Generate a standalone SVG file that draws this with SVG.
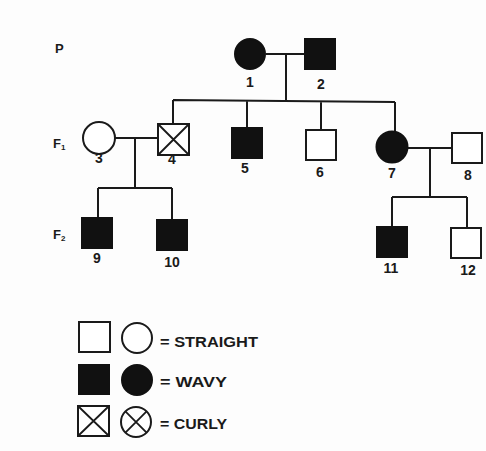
<svg xmlns="http://www.w3.org/2000/svg" width="486" height="451" viewBox="0 0 486 451">
<style>
.ln{stroke:#1a1a1a;stroke-width:2;fill:none}
.o{fill:#fff;stroke:#1a1a1a;stroke-width:2}
.f{fill:#111;stroke:#111;stroke-width:2}
.x{stroke:#1a1a1a;stroke-width:1.8}
text{font-family:"Liberation Sans",Arial,sans-serif;font-weight:bold;fill:#1a1a1a}
.n{font-size:14px;text-anchor:middle}
.g{font-size:13px}
.sub{font-size:8px}
.lg{font-size:14px}
</style>
<rect width="486" height="451" fill="#fdfdfd"/>
<g id="gen-labels">
<text class="g" x="55" y="53">P</text>
<text class="g" x="53" y="148">F<tspan class="sub" dy="2">1</tspan></text>
<text class="g" x="53" y="239">F<tspan class="sub" dy="2">2</tspan></text>
</g>
<g id="connectors">
<path class="ln" d="M266,54H305M286,54V101M173,100L395,102M173,100V124M247,101V127M321,101V130M395,102V131"/>
<path class="ln" d="M115,138H158M135,138V188M98,188H172M98,188V217M172,188V219"/>
<path class="ln" d="M408,148H452M430,148V197M392,197H467M392,197V226M467,197V228"/>
</g>
<g id="n1"><circle class="f" cx="250" cy="54" r="15"/><text class="n" x="250" y="87">1</text></g>
<g id="n2"><rect class="f" x="305" y="39" width="30" height="30"/><text class="n" x="321" y="89">2</text></g>
<g id="n3"><circle class="o" cx="99" cy="138" r="16"/><text class="n" x="99" y="163">3</text></g>
<g id="n4"><rect class="o" x="158" y="124" width="31" height="31"/><path class="x" d="M158,124L189,155M189,124L158,155"/><text class="n" x="172" y="164">4</text></g>
<g id="n5"><rect class="f" x="232" y="128" width="30" height="30"/><text class="n" x="245" y="173">5</text></g>
<g id="n6"><rect class="o" x="306" y="130" width="30" height="30"/><text class="n" x="320" y="177">6</text></g>
<g id="n7"><circle class="f" cx="392" cy="147" r="15.5"/><text class="n" x="392" y="178">7</text></g>
<g id="n8"><rect class="o" x="452" y="133" width="30" height="30"/><text class="n" x="468" y="180">8</text></g>
<g id="n9"><rect class="f" x="82" y="218" width="30" height="30"/><text class="n" x="97" y="263">9</text></g>
<g id="n10"><rect class="f" x="157" y="220" width="30" height="30"/><text class="n" x="172" y="267">10</text></g>
<g id="n11"><rect class="f" x="377" y="227" width="30" height="30"/><text class="n" x="391" y="273">11</text></g>
<g id="n12"><rect class="o" x="451" y="228" width="30" height="30"/><text class="n" x="468" y="275">12</text></g>
<g id="legend">
<rect class="o" x="79" y="322" width="31" height="30"/>
<circle class="o" cx="137" cy="338" r="15"/>
<text class="lg" x="160" y="347" textLength="98" lengthAdjust="spacingAndGlyphs">= STRAIGHT</text>
<rect class="f" x="79" y="365" width="30" height="29"/>
<circle class="f" cx="137" cy="380" r="15"/>
<text class="lg" x="160" y="387" textLength="67" lengthAdjust="spacingAndGlyphs">= WAVY</text>
<rect class="o" x="78" y="406" width="31" height="30"/>
<path class="x" d="M78,406L109,436M109,406L78,436"/>
<circle class="o" cx="136" cy="422" r="15"/>
<path class="x" d="M125.4,411.4L146.6,432.6M146.6,411.4L125.4,432.6"/>
<text class="lg" x="160" y="429" textLength="67" lengthAdjust="spacingAndGlyphs">= CURLY</text>
</g>
</svg>
